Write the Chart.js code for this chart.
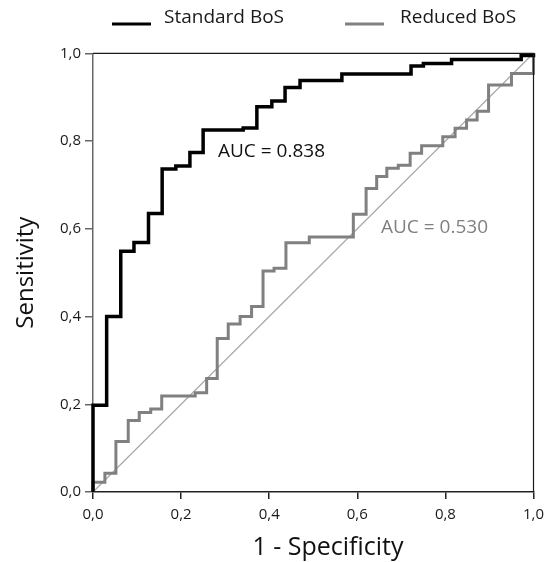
<!DOCTYPE html>
<html>
<head>
<meta charset="utf-8">
<script src="https://cdn.jsdelivr.net/npm/chart.js@4.4.1/dist/chart.umd.min.js"></script>
<style>
  html, body { margin: 0; padding: 0; background: #ffffff; }
  #wrap { width: 555px; height: 562px; position: relative; }
</style>
</head>
<body>
<div id="wrap"><canvas id="c" width="555" height="562"></canvas></div>
<script>
// ---- Data ----
const seriesNames = ["Standard BoS", "Reduced BoS"];
const aucLabels = ["AUC = 0.838", "AUC = 0.530"];
const xTitle = "1 - Specificity";
const yTitle = "Sensitivity";

// Standard BoS ROC path (1 - specificity, sensitivity)
const standardFpr = [0,0,0.031,0.031,0.063,0.063,0.093,0.093,0.126,0.126,0.157,0.157,0.188,0.188,0.220,0.220,0.250,0.250,0.341,0.341,0.372,0.372,0.406,0.406,0.436,0.436,0.470,0.470,0.565,0.565,0.722,0.722,0.750,0.750,0.814,0.814,0.972,0.972,1,1];
const standardTpr = [0,0.198,0.198,0.400,0.400,0.549,0.549,0.569,0.569,0.635,0.635,0.736,0.736,0.743,0.743,0.774,0.774,0.825,0.825,0.830,0.830,0.878,0.878,0.891,0.891,0.922,0.922,0.938,0.938,0.953,0.953,0.971,0.971,0.977,0.977,0.986,0.986,0.995,0.995,1];

// Reduced BoS ROC path
const reducedFpr = [0,0,0.027,0.027,0.052,0.052,0.080,0.080,0.105,0.105,0.131,0.131,0.156,0.156,0.232,0.232,0.258,0.258,0.282,0.282,0.307,0.307,0.334,0.334,0.360,0.360,0.386,0.386,0.411,0.411,0.438,0.438,0.491,0.491,0.591,0.591,0.620,0.620,0.644,0.644,0.667,0.667,0.693,0.693,0.720,0.720,0.746,0.746,0.794,0.794,0.822,0.822,0.848,0.848,0.872,0.872,0.898,0.898,0.950,0.950,1,1];
const reducedTpr = [0,0.022,0.022,0.043,0.043,0.115,0.115,0.163,0.163,0.181,0.181,0.189,0.189,0.219,0.219,0.226,0.226,0.259,0.259,0.350,0.350,0.383,0.383,0.400,0.400,0.423,0.423,0.504,0.504,0.510,0.510,0.568,0.568,0.581,0.581,0.633,0.633,0.692,0.692,0.719,0.719,0.738,0.738,0.745,0.745,0.772,0.772,0.789,0.789,0.810,0.810,0.829,0.829,0.848,0.848,0.868,0.868,0.928,0.928,0.954,0.954,1];

// Chance (reference) diagonal
const chanceX = [0, 1];
const chanceY = [0, 1];

// Tick values
const tickValues = [0, 0.2, 0.4, 0.6, 0.8, 1.0];

// ---- Build ----
const toPts = (xs, ys) => xs.map((x, i) => ({ x: x, y: ys[i] }));
const BLACK = '#000000';
const GREY = '#808080';

Chart.defaults.font.family = "'Open Sans', 'DejaVu Sans', sans-serif";
Chart.defaults.color = '#1a1a1a';

const overlay = {
  id: 'overlay',
  afterDraw(chart) {
    const ctx = chart.ctx;
    const a = chart.chartArea;
    ctx.save();
    // top and right frame
    ctx.strokeStyle = '#1a1a1a';
    ctx.lineWidth = 1.2;
    ctx.beginPath();
    ctx.moveTo(a.left, a.top);
    ctx.lineTo(a.right, a.top);
    ctx.lineTo(a.right, a.bottom);
    ctx.stroke();

    // legend
    ctx.font = "19px 'Open Sans', sans-serif";
    ctx.textBaseline = 'middle';
    ctx.textAlign = 'left';
    const items = [
      { name: seriesNames[0], color: BLACK, x0: 112, x1: 151, tx: 164 },
      { name: seriesNames[1], color: GREY, x0: 345, x1: 384, tx: 400 }
    ];
    items.forEach(it => {
      ctx.strokeStyle = it.color;
      ctx.lineWidth = 3;
      ctx.beginPath();
      ctx.moveTo(it.x0, 24);
      ctx.lineTo(it.x1, 24);
      ctx.stroke();
      ctx.fillStyle = '#1a1a1a';
      ctx.fillText(it.name, it.tx, 18);
    });

    // AUC annotations
    ctx.fillStyle = '#111111';
    ctx.fillText(aucLabels[0], 218, 152);
    ctx.fillStyle = GREY;
    ctx.fillText(aucLabels[1], 381, 228);

    // x axis title (offset right of centre, as in the reference)
    ctx.fillStyle = '#111111';
    ctx.font = "25px 'Open Sans', sans-serif";
    ctx.textAlign = 'center';
    ctx.fillText(xTitle, 328, 548);
    ctx.restore();
  }
};

new Chart(document.getElementById('c'), {
  type: 'scatter',
  data: {
    datasets: [
      {
        label: seriesNames[0],
        data: toPts(standardFpr, standardTpr),
        showLine: true,
        borderColor: BLACK,
        borderWidth: 3.5,
        pointRadius: 0,
        fill: false,
        tension: 0,
        clip: false,
        borderJoinStyle: 'miter',
        borderCapStyle: 'butt'
      },
      {
        label: seriesNames[1],
        data: toPts(reducedFpr, reducedTpr),
        showLine: true,
        borderColor: GREY,
        borderWidth: 3,
        pointRadius: 0,
        fill: false,
        tension: 0,
        clip: false,
        borderJoinStyle: 'miter',
        borderCapStyle: 'butt'
      },
      {
        label: 'Reference',
        data: toPts(chanceX, chanceY),
        showLine: true,
        borderColor: '#a8a8a8',
        borderWidth: 1.2,
        pointRadius: 0,
        fill: false,
        clip: false
      }
    ]
  },
  options: {
    responsive: false,
    animation: false,
    devicePixelRatio: 1,
    layout: { padding: { top: 53.3, right: 21.5, bottom: 0, left: 0 } },
    plugins: {
      legend: { display: false },
      tooltip: { enabled: false }
    },
    scales: {
      x: {
        type: 'linear',
        min: 0, max: 1,
        afterFit(s) { s.height = 70; },
        afterBuildTicks(s) { s.ticks = tickValues.map(v => ({ value: v })); },
        ticks: {
          padding: 7,
          font: { size: 15 },
          color: '#1a1a1a',
          maxRotation: 0,
          autoSkip: false,
          callback: v => Number(v).toFixed(1).replace('.', ',')
        },
        grid: {
          drawOnChartArea: false,
          drawTicks: true,
          tickLength: 7,
          color: '#222222',
          lineWidth: 1.5
        },
        border: { display: true, color: '#222222', width: 1.5 },
        title: { display: false }
      },
      y: {
        type: 'linear',
        min: 0, max: 1,
        afterFit(s) { s.width = 93; },
        afterBuildTicks(s) { s.ticks = tickValues.map(v => ({ value: v })); },
        ticks: {
          padding: 4,
          font: { size: 15 },
          color: '#1a1a1a',
          autoSkip: false,
          callback: v => Number(v).toFixed(1).replace('.', ',')
        },
        grid: {
          drawOnChartArea: false,
          drawTicks: true,
          tickLength: 8,
          color: '#666666',
          lineWidth: 1.5
        },
        border: { display: true, color: '#666666', width: 1.5 },
        title: {
          display: true,
          text: yTitle,
          font: { size: 24 },
          color: '#111111',
          padding: { top: 12, bottom: 0 }
        }
      }
    }
  },
  plugins: [overlay]
});
</script>
</body>
</html>
